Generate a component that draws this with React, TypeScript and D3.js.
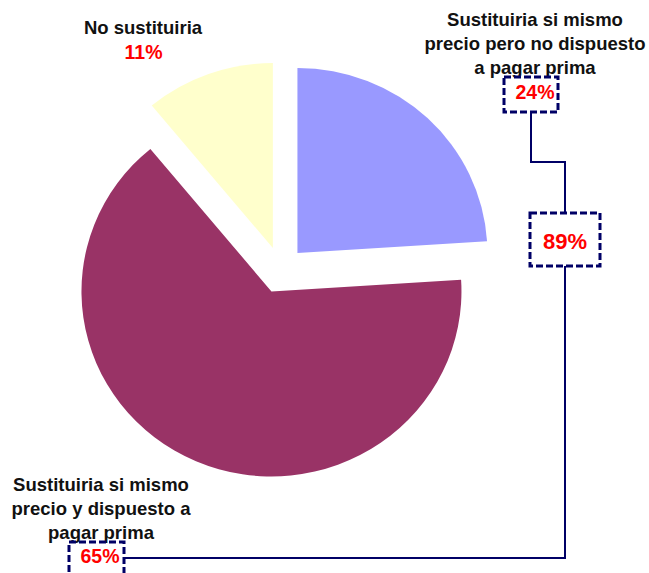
import { useMemo } from 'react'
import * as d3 from 'd3'

// data
const categories = [
  'Sustituiria si mismo precio pero no dispuesto a pagar prima',
  'Sustituiria si mismo precio y dispuesto a pagar prima',
  'No sustituiria',
]
const values = [24, 65, 11]
const colors = ['#9999FF', '#993366', '#FFFFCC']
const labelLines = [
  ['Sustituiria si mismo', 'precio pero no dispuesto', 'a pagar prima'],
  ['Sustituiria si mismo', 'precio y dispuesto a', 'pagar prima'],
  ['No sustituiria'],
]

const W = 649
const H = 573
const center = { x: 281, y: 270 }
const rx = 190
const ry = 185
const explode = 24
const font = '"Liberation Sans", Arial, sans-serif'
const navy = '#000066'
const red = '#FF0000'

// where each label block sits (x = centre, y = first baseline)
const labelPos = [
  { x: 535, y: 26 },
  { x: 101, y: 491 },
  { x: 143, y: 34 },
]
const lineGap = 23.8

export default function App() {
  const slices = useMemo(
    () => d3.pie<number>().sort(null).value(d => d)(values),
    []
  )
  const arc = d3.arc<d3.PieArcDatum<number>>().innerRadius(0).outerRadius(rx)
  const pct = (v: number) => `${v}%`
  const combined = values[0] + values[1]

  // boxes for percentage labels
  const box24 = { x: 504, y: 77, w: 54, h: 35 }
  const box89 = { x: 530, y: 213, w: 70, h: 53 }
  const box65 = { x: 69, y: 542, w: 55, h: 40 }
  const midX24 = box24.x + box24.w / 2
  const midX89 = box89.x + box89.w / 2

  return (
    <div style={{ position: 'absolute', left: 0, top: 0, width: W, height: H, background: '#fff' }}>
      <svg width={W} height={H} viewBox={`0 0 ${W} ${H}`} style={{ display: 'block' }}>
        <rect width={W} height={H} fill="#fff" />
        <g transform={`translate(${center.x},${center.y}) scale(1,${ry / rx})`}>
          {slices.map((s, i) => {
            const mid = (s.startAngle + s.endAngle) / 2
            const dx = explode * Math.sin(mid)
            const dy = -explode * Math.cos(mid)
            return (
              <path key={categories[i]} d={arc(s) ?? ''} fill={colors[i]}
                transform={`translate(${dx},${dy})`} />
            )
          })}
        </g>

        {/* connector lines */}
        <polyline
          points={`${midX24},${box24.y + box24.h} ${midX24},162 ${midX89},162 ${midX89},${box89.y}`}
          fill="none" stroke={navy} strokeWidth={2} />
        <polyline
          points={`${midX89},${box89.y + box89.h} ${midX89},558 ${box65.x + box65.w},558`}
          fill="none" stroke={navy} strokeWidth={2} />

        {/* category labels */}
        {labelLines.map((lines, i) => (
          <text key={i} x={labelPos[i].x} y={labelPos[i].y} textAnchor="middle"
            fontFamily={font} fontWeight="bold" fontSize={18.5} fill="#111">
            {lines.map((l, j) => (
              <tspan key={j} x={labelPos[i].x} y={labelPos[i].y + j * lineGap}>{l}</tspan>
            ))}
          </text>
        ))}

        {/* percentage boxes */}
        {[box24, box89, box65].map((b, i) => (
          <rect key={i} x={b.x} y={b.y} width={b.w} height={b.h} fill="none"
            stroke={navy} strokeWidth={3} strokeDasharray="7,3" />
        ))}

        <text x={535} y={99} textAnchor="middle" fontFamily={font} fontWeight="bold"
          fontSize={19.5} fill={red}>{pct(values[0])}</text>
        <text x={100} y={563} textAnchor="middle" fontFamily={font} fontWeight="bold"
          fontSize={19.5} fill={red}>{pct(values[1])}</text>
        <text x={143.5} y={58.5} textAnchor="middle" fontFamily={font} fontWeight="bold"
          fontSize={19.5} fill={red}>{pct(values[2])}</text>
        <text x={midX89} y={248.5} textAnchor="middle" fontFamily={font} fontWeight="bold"
          fontSize={22} fill={red}>{pct(combined)}</text>
      </svg>
    </div>
  )
}
